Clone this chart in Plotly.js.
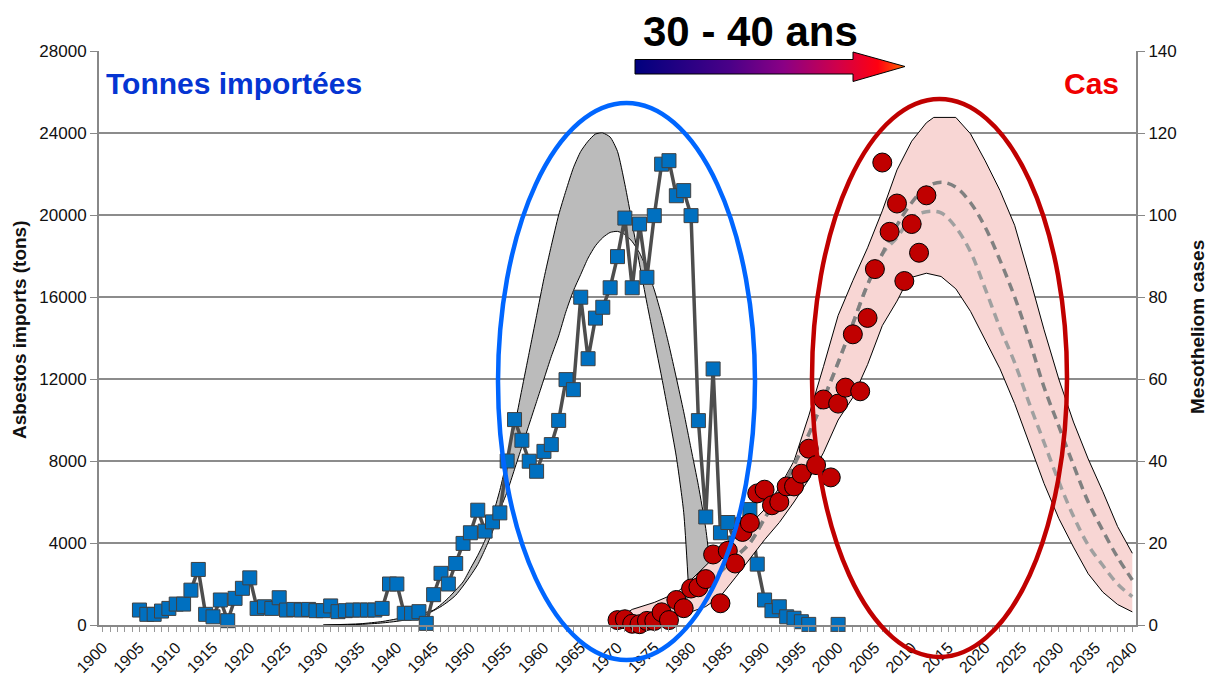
<!DOCTYPE html>
<html>
<head>
<meta charset="utf-8">
<script src="https://cdn.plot.ly/plotly-3.0.1.min.js"></script>
<style>html,body{margin:0;padding:0;background:#fff;}#chart{width:1212px;height:675px;}</style>
</head>
<body>
<div id="chart"></div>
<script>
// ---- Asbestos imports (tons), left axis ----
const importYears = [1905,1906,1907,1908,1909,1910,1911,1912,1913,1914,1915,1916,1917,1918,1919,1920,
  1921,1922,1923,1924,1925,1926,1927,1928,1929,1930,1931,1932,1933,1934,1935,1936,1937,1938,1939,1940,
  1941,1942,1943,1944,1945,1946,1947,1948,1949,1950,1951,1952,1953,1954,1955,1956,1957,1958,1959,1960,
  1961,1962,1963,1964,1965,1966,1967,1968,1969,1970,1971,1972,1973,1974,1975,1976,1977,1978,1979,1980,
  1981,1982,1983,1984,1985,1986,1987,1988,1989,1990,1991,1992,1993,1994,1995,1996,1997,1998,1999,2000];
const importTons = [730,520,520,680,810,1020,1020,1700,2710,520,400,1220,210,1300,1790,2300,
  810,890,810,1330,730,760,730,760,700,700,930,650,700,730,730,730,730,810,2000,2000,
  570,570,650,80,1480,2520,2000,3000,3980,4500,5600,4580,5030,5470,8000,10020,9010,7990,7500,8470,
  8800,9980,11970,11480,15990,12990,14970,15500,16450,17970,19850,16450,19560,16960,19970,22480,22650,20940,21190,19970,
  9970,5270,12490,4500,5000,4000,4900,5630,2970,1220,700,890,400,330,160,30,null,null,null,30];

// ---- Imports model band (grey) ----
const bandAYears = [1930,1935,1938,1940,1942,1944,1945,1946,1947,1948,1949,1950,1951,1952,1953,1954,1955,1956,1957,1958,1959,1960,
  1961,1962,1963,1964,1965,1966,1967,1968,1969,1970,1971,1972,1973,1974,1975,1976,1977,1978,1979,1979.6];
const bandAValues = [0,60,170,300,450,620,730,1000,1320,1700,2100,2750,3400,4150,5300,6570,8100,9700,11500,13300,15100,16900,
  18500,20000,21200,22300,23100,23600,23950,24000,23800,23100,21500,19600,17600,15700,13900,12100,10200,8200,5500,2200];
const bandBYears = [1930,1935,1938,1940,1942,1944,1945,1946,1947,1948,1949,1950,1951,1952,1953,1954,1955,1956,1957,1958,1959,1960,
  1961,1962,1963,1964,1965,1966,1967,1968,1969,1970,1971,1972,1973,1974,1975,1976,1977,1978,1979,1980,1981,1982,1982.8];
const bandBValues = [0,30,100,180,300,520,700,900,1150,1450,1900,2400,2950,3700,4550,5600,6500,7600,8700,9800,10900,12000,
  13100,14100,15300,16300,17100,17900,18500,18900,19150,19200,19050,18700,18150,17350,16350,15100,13650,12050,10400,8600,6800,4700,2200];

// ---- Mesothelioma cases, right axis ----
const caseYears = [1970,1971,1972,1973,1974,1975,1976,1977,1978,1979,1980,1981,1982,1983,1984,1985,1986,1987,1988,1989,
  1990,1991,1992,1993,1994,1995,1996,1997,1998,1999,2000,2001,2002,2003,2004,2005,2006,2007,2008,2009,2010,2011,2012];
const caseCounts = [1.2,1.4,0.3,0.2,1.0,1.0,3.1,1.2,6.1,4.1,8.9,9.2,11.2,17.2,5.3,18.1,15.0,22.7,24.9,32.1,
  33.0,29.2,30.0,33.8,33.8,36.9,43.0,39.0,55.0,36.0,54.0,57.9,70.9,57.0,74.9,86.8,112.8,95.9,102.8,83.9,97.8,90.8,104.8];

// ---- Cases model band (pink) ----
const caseUpperYears = [1969.5,1972,1975,1978,1980,1982,1984,1986,1988,1990,1992,1994,1996,1998,2000,2002,2004,2006,2008,2010,
  2012,2013,2014,2015,2016,2018,2020,2022,2024,2026,2028,2030,2032,2034,2036,2038,2040];
const caseUpperValues = [1,3.8,5.5,7.8,11,14.5,18,21.2,24.5,28.2,33.5,40,51,63,75.5,84,92,101,111,118,
  122.5,123.8,123.8,123.8,123.8,119.8,113.2,106,97.5,85,72,60,49.5,40.5,32.5,24,17.5];
const caseLowerYears = [1969.5,1972,1975,1978,1980,1982,1984,1986,1988,1990,1992,1994,1996,1998,2000,2002,2004,2006,2008,2009,
  2010,2012,2014,2016,2018,2020,2022,2024,2026,2028,2030,2032,2034,2036,2038,2040];
const caseLowerValues = [1,1.1,1.2,2.2,3.2,4.5,7,11.5,16.3,20.8,25,30,35.5,42,50,55.5,63.5,73,79,82.5,
  84.8,85.8,85,82,76.5,69.5,62.5,54,44,34.5,26,19,12.5,8,5,3.2];

// ---- Cases model central estimates (dashed) ----
const fitYears = [1975,1978,1980,1982,1984,1986,1988,1990,1992,1994,1996,1998,2000,2002,2004,2006,2008,2010,2012,2014,
  2016,2018,2020,2022,2024,2026,2028,2030,2032,2034,2036,2038,2040];
const fitHigh = [3.5,5.5,7.5,10,13,16.5,20,26,32,39,46.5,55,64,73.5,83,90.5,97.5,103,106.8,108,
  106.8,103,97,89,80,69.5,58,48.5,39,30,23,16.5,11];
const fitLow = [3.5,5.5,7.5,10,13,16.5,20,26,32,39,46.5,55,64,73.5,83,90.5,94.5,99.3,100.8,100.5,
  97,91,82,72.5,64,54,44.5,35,26.5,19.5,14.5,10,6.9];

// ---- Texts ----
const leftTitle = 'Asbestos imports (tons)';
const rightTitle = 'Mesotheliom cases';
const importsLabel = 'Tonnes importées';
const casesLabel = 'Cas';
const lagLabel = '30 - 40 ans';

const FONT = 'Liberation Sans, Arial, sans-serif';

// plot area in pixels (for decorative shapes)
const PL = 99, PR = 1136, PT = 51, PB = 625;
const px = v => (v - PL) / (PR - PL);
const py = v => (PB - v) / (PB - PT);

const traces = [
  {x: bandAYears, y: bandAValues, type: 'scatter', mode: 'lines', line: {color: '#000', width: 1, shape: 'spline', smoothing: 0.6}, hoverinfo: 'skip'},
  {x: bandBYears, y: bandBValues, type: 'scatter', mode: 'lines', fill: 'tonexty', fillcolor: '#BBBBBB', line: {color: '#000', width: 1, shape: 'spline', smoothing: 0.6}, hoverinfo: 'skip'},
  {x: caseUpperYears, y: caseUpperValues, yaxis: 'y2', type: 'scatter', mode: 'lines', line: {color: '#000', width: 1}, hoverinfo: 'skip'},
  {x: caseLowerYears, y: caseLowerValues, yaxis: 'y2', type: 'scatter', mode: 'lines', fill: 'tonexty', fillcolor: '#F8D6D4', line: {color: '#000', width: 1}, hoverinfo: 'skip'},
  {x: fitYears, y: fitLow, yaxis: 'y2', type: 'scatter', mode: 'lines', line: {color: '#A0A0A0', width: 3.5, dash: '9px,6px', shape: 'spline'}},
  {x: fitYears, y: fitHigh, yaxis: 'y2', type: 'scatter', mode: 'lines', line: {color: '#808080', width: 3.5, dash: '9px,6px', shape: 'spline'}},
  {x: importYears, y: importTons, type: 'scatter', mode: 'lines+markers', connectgaps: false, cliponaxis: false,
   line: {color: '#4D4D4D', width: 3.5}, marker: {symbol: 'square', size: 14, color: '#0070C0', line: {color: '#404040', width: 1}}},
  {x: caseYears, y: caseCounts, yaxis: 'y2', type: 'scatter', mode: 'markers', cliponaxis: false,
   marker: {symbol: 'circle', size: 19, color: '#C00000', line: {color: '#000', width: 1}}},
  // gradient arrow (decoration) on a hidden pixel-space overlay
  {x: [635, 853, 853, 905, 853, 853, 635, 635], y: [59.5, 59.5, 52, 66.5, 81.5, 74, 74, 59.5],
   xaxis: 'x3', yaxis: 'y3', type: 'scatter', mode: 'lines', fill: 'toself', cliponaxis: false,
   line: {color: '#000', width: 1},
   fillgradient: {type: 'horizontal', colorscale: [[0, '#00007E'], [0.35, '#4A0088'], [0.55, '#8A0085'], [0.75, '#D0004A'], [0.9, '#FF0010'], [1, '#FF6A00']]},
   hoverinfo: 'skip'}
];

const layout = {
  width: 1212, height: 675,
  margin: {l: PL, r: 1212 - PR, t: PT, b: 675 - PB},
  paper_bgcolor: '#fff', plot_bgcolor: '#fff',
  showlegend: false,
  font: {family: FONT, color: '#1a1a1a', size: 16},
  xaxis: {range: [1899.5, 2040.5], tickmode: 'linear', tick0: 1900, dtick: 5, tickangle: -45,
    ticks: 'outside', ticklen: 5, tickcolor: '#999', tickfont: {size: 16, color: '#111'},
    showline: true, linecolor: '#888', linewidth: 2, showgrid: false, zeroline: false,
    minor: {tick0: 1900, dtick: 1, ticks: 'outside', ticklen: 5, tickcolor: '#999', showgrid: false}},
  yaxis: {range: [0, 28000], tickmode: 'linear', tick0: 0, dtick: 4000, tickformat: 'd',
    ticks: 'outside', ticklen: 7, tickcolor: '#888', tickfont: {size: 17, color: '#111'},
    showline: true, linecolor: '#888', linewidth: 2, showgrid: true, gridcolor: '#8C8C8C', gridwidth: 1.5, zeroline: false},
  yaxis2: {range: [0, 140], overlaying: 'y', side: 'right', tickmode: 'linear', tick0: 0, dtick: 20,
    ticks: 'outside', ticklen: 7, tickcolor: '#888', tickfont: {size: 17, color: '#111'},
    showline: true, linecolor: '#888', linewidth: 2, showgrid: false, zeroline: false},
  xaxis3: {overlaying: 'x', anchor: 'y3', range: [PL, PR], visible: false, fixedrange: true},
  yaxis3: {overlaying: 'y', anchor: 'x3', range: [PB, PT], visible: false, fixedrange: true},
  shapes: [
    {type: 'circle', xref: 'paper', yref: 'paper', x0: px(498), x1: px(755), y0: py(660), y1: py(103), line: {color: '#0066FF', width: 4.5}, layer: 'above'},
    {type: 'circle', xref: 'paper', yref: 'paper', x0: px(812), x1: px(1067), y0: py(657), y1: py(99), line: {color: '#C00000', width: 4.5}, layer: 'above'}
  ],
  annotations: [
    {text: '<b>' + leftTitle + '</b>', xref: 'paper', yref: 'paper', x: px(19), y: py(330), xanchor: 'center', yanchor: 'middle', textangle: -90, showarrow: false, font: {size: 19, color: '#111'}},
    {text: '<b>' + rightTitle + '</b>', xref: 'paper', yref: 'paper', x: px(1197), y: py(327), xanchor: 'center', yanchor: 'middle', textangle: -90, showarrow: false, font: {size: 19, color: '#111'}},
    {text: '<b>' + importsLabel + '</b>', xref: 'paper', yref: 'paper', x: px(104), y: py(84), xanchor: 'left', yanchor: 'middle', showarrow: false, font: {size: 30, color: '#0535D2'}},
    {text: '<b>' + casesLabel + '</b>', xref: 'paper', yref: 'paper', x: px(1121), y: py(84), xanchor: 'right', yanchor: 'middle', showarrow: false, font: {size: 30, color: '#F00000'}},
    {text: '<b>' + lagLabel + '</b>', xref: 'paper', yref: 'paper', x: px(750), y: py(32), xanchor: 'center', yanchor: 'middle', showarrow: false, font: {size: 42, color: '#000'}}
  ]
};

Plotly.newPlot('chart', traces, layout, {staticPlot: true, displayModeBar: false});
</script>
</body>
</html>
